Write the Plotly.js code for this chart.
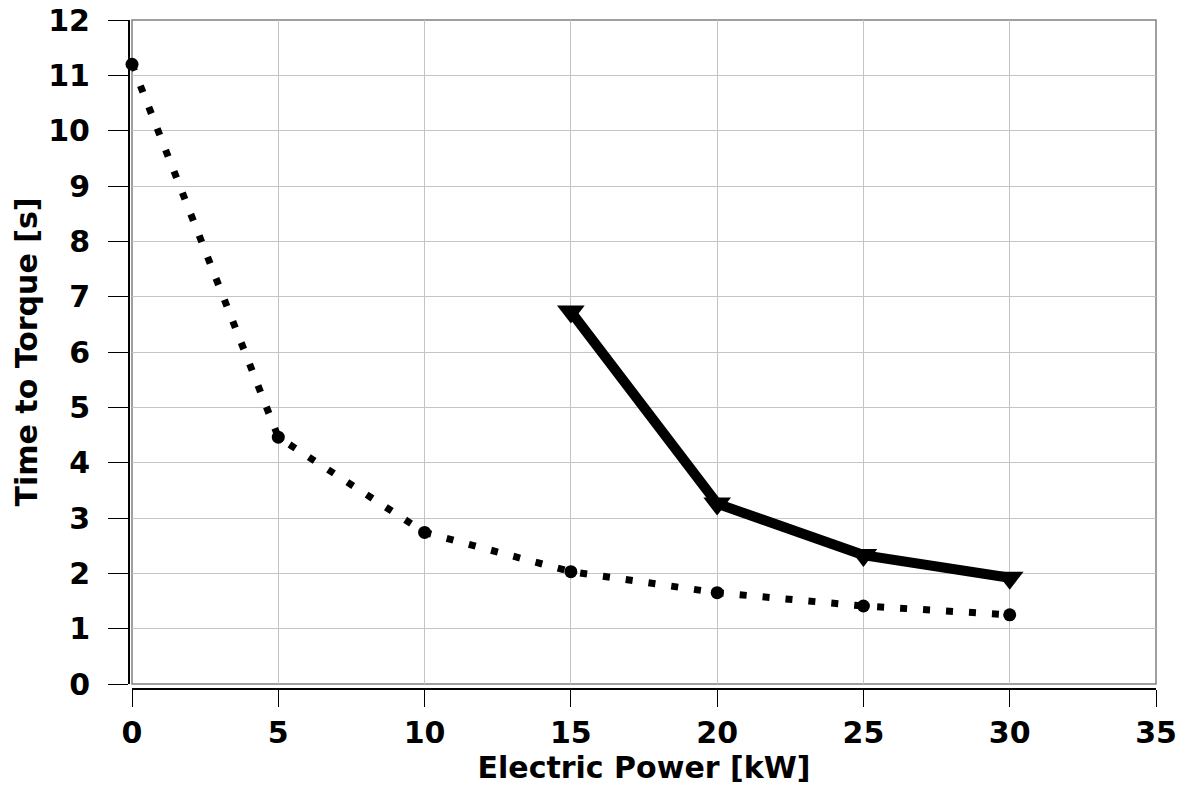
<!DOCTYPE html>
<html>
<head>
<meta charset="utf-8">
<script src="https://cdn.plot.ly/plotly-3.0.1.min.js"></script>
<style>html,body{margin:0;padding:0;background:#fff;}#chart{width:1177px;height:787px;}</style>
</head>
<body>
<div id="chart"></div>
<script>
// Dotted series (circle markers)
const powerA = [0, 5, 10, 15, 20, 25, 30];
const timeA = [11.2, 4.46, 2.74, 2.03, 1.65, 1.41, 1.25];
// Solid series (triangle-down markers)
const powerB = [15, 20, 25, 30];
const timeB = [6.73, 3.26, 2.33, 1.92];
// Axis ticks
const xTicks = [0, 5, 10, 15, 20, 25, 30, 35];
const yTicks = [0, 1, 2, 3, 4, 5, 6, 7, 8, 9, 10, 11, 12];

const W = 1177, H = 787;
const margin = {l: 128, r: 21, t: 20, b: 99};
const plotW = W - margin.l - margin.r;
const plotH = H - margin.t - margin.b;
const gap = 4;

const traces = [
  {
    x: powerA, y: timeA, type: 'scatter', mode: 'lines+markers',
    line: {color: '#000', width: 7, dash: '7px,16px'},
    marker: {symbol: 'circle', size: 13, color: '#000'},
    cliponaxis: false, showlegend: false
  },
  {
    x: powerB, y: timeB, type: 'scatter', mode: 'lines+markers',
    line: {color: '#000', width: 10},
    marker: {symbol: 'triangle-down', size: 24, color: '#000'},
    cliponaxis: false, showlegend: false
  }
];

const fam = 'DejaVu Sans, Liberation Sans, Arial, sans-serif';
const tickFont = {family: fam, size: 30, color: '#000', weight: 'bold'};
const titleFont = {family: fam, size: 30, color: '#000', weight: 'bold'};

const layout = {
  width: W, height: H,
  margin: margin,
  paper_bgcolor: '#fff', plot_bgcolor: '#fff',
  xaxis: {
    domain: [gap / plotW, 1],
    anchor: 'free', position: 0,
    range: [0, 35], tickvals: xTicks, ticktext: xTicks.map(String),
    showgrid: true, gridcolor: '#c4c4c4', gridwidth: 1,
    zeroline: false, showline: true, linecolor: '#000', linewidth: 1.5,
    ticks: 'outside', ticklen: 17, tickwidth: 1, tickcolor: '#000',
    ticklabelstandoff: 0,
    tickfont: tickFont,
    title: {text: 'Electric Power [kW]', font: titleFont, standoff: 2}
  },
  yaxis: {
    domain: [gap / plotH, 1],
    anchor: 'free', position: 0,
    range: [0, 12], tickvals: yTicks, ticktext: yTicks.map(String),
    showgrid: true, gridcolor: '#c4c4c4', gridwidth: 1,
    zeroline: false, showline: true, linecolor: '#000', linewidth: 1.5,
    ticks: 'outside', ticklen: 20, tickwidth: 1, tickcolor: '#000',
    ticklabelstandoff: 12,
    tickfont: tickFont,
    title: {text: 'Time to Torque [s]', font: titleFont, standoff: 0}
  },
  shapes: [
    {type: 'rect', xref: 'x domain', yref: 'y domain', x0: 0, x1: 1, y0: 0, y1: 1,
     line: {color: '#808080', width: 1.5}, fillcolor: 'rgba(0,0,0,0)', layer: 'below'}
  ]
};

Plotly.newPlot('chart', traces, layout, {displayModeBar: false, staticPlot: true});
</script>
</body>
</html>
